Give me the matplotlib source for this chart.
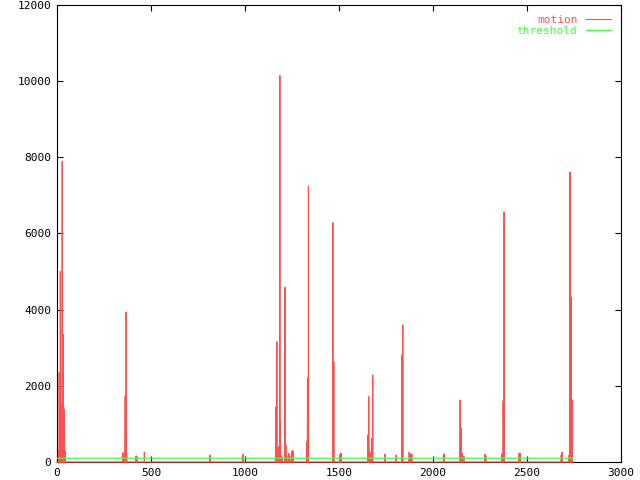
import numpy as np
import matplotlib
matplotlib.use("Agg")
import matplotlib.pyplot as plt

# motion spikes: frame number and value, zero elsewhere
spike_frames = [9, 12, 15, 18, 21, 24, 28, 31, 34, 37, 40, 42,
                351, 363, 365, 368, 371, 421, 425, 465,
                814, 987, 991,
                1165, 1170, 1175, 1180, 1186, 1189, 1195, 1200, 1213, 1218, 1223,
                1234, 1239, 1250, 1253, 1256,
                1328, 1333, 1338,
                1468, 1473, 1505, 1509, 1513,
                1654, 1659, 1664, 1669, 1674, 1680,
                1746, 1805, 1835, 1840,
                1874, 1878, 1883, 1888,
                2059, 2145, 2150, 2155, 2160, 2165,
                2278, 2282, 2368, 2374, 2379,
                2459, 2463, 2466,
                2683, 2688, 2725, 2730, 2736, 2741]
spike_values = [300, 2350, 1500, 5000, 1440, 1500, 7900, 1500, 3350, 1400, 600, 300,
                245, 1730, 1500, 3940, 200, 160, 150, 260,
                184, 150, 210,
                1450, 3160, 270, 400, 10145, 1085, 155, 100, 4590, 445, 155,
                225, 155, 290, 290, 290,
                533, 2205, 7230,
                6285, 2626, 190, 228, 228,
                709, 1716, 271, 210, 612, 2285,
                210, 184, 2810, 3600,
                263, 210, 210, 210,
                210, 1628, 893, 228, 157, 150,
                210, 150, 210, 1610, 6565,
                228, 228, 228,
                184, 263, 184, 7615, 4330, 1628]
last_frame = 2745
threshold = 100

frames = np.arange(last_frame + 1)
motion = np.zeros(len(frames))
motion[spike_frames] = spike_values

red = "#ff5050"
green = "#40ff40"

fig = plt.figure(figsize=(6.4, 4.8), dpi=100)
ax = fig.add_axes([0.089, 0.0375, 0.881, 0.9521])

ax.plot(frames, motion, color=red, lw=0.8, label="motion", zorder=3,
        clip_on=False)
ax.plot(frames, np.full(len(frames), threshold), color=green, lw=0.9,
        label="threshold", zorder=4)

ax.set_xlim(0, 3000)
ax.set_ylim(0, 12000)
ax.set_xticks(range(0, 3001, 500))
ax.set_yticks(range(0, 12001, 2000))
ax.tick_params(direction="in", length=4, width=0.8, top=True, right=True,
               labelsize=8, pad=4)
for lab in ax.get_xticklabels() + ax.get_yticklabels():
    lab.set_family("DejaVu Sans Mono")
for s in ax.spines.values():
    s.set_linewidth(0.8)

leg = ax.legend(loc="upper right", frameon=False, markerfirst=False,
                prop={"family": "DejaVu Sans Mono", "size": 8},
                handlelength=2.2, labelspacing=0.1, borderaxespad=0.5,
                handletextpad=0.8)
for txt, c in zip(leg.get_texts(), [red, green]):
    txt.set_color(c)

fig.savefig("out.png", dpi=100)
